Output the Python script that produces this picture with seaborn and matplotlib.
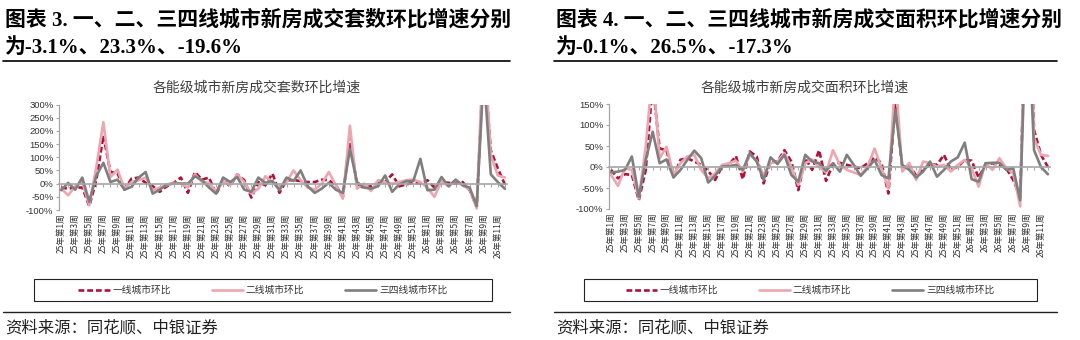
import numpy as np
import pandas as pd
import matplotlib
matplotlib.use("Agg")
import matplotlib.pyplot as plt
from matplotlib.lines import Line2D
from matplotlib.patches import Rectangle
import seaborn as sns

# ---- categories: weekly periods, 2025 W1 .. 2026 W12 ----
weeks = [f"25年第{w}周" for w in range(1, 53)] + [f"26年第{w}周" for w in range(1, 13)]

# ---- week-on-week growth of new-home transactions (units), % ----
units_tier1 = [-15, -19, -15, -15, -85, 13, 182, 44, 40, -23,
               19, 23, 3, -10, -31, -10, 3, 23, -35, 44,
               15, 23, -40, 13, -10, 35, 13, -53, 6, -6,
               38, -35, 13, 13, 10, 6, 6, 15, 13, -6,
               -50, 176, -6, -15, -10, 3, 6, 35, -10, -3,
               3, 0, 13, -15, 6, 3, 0, 6, -25, -88,
               480, 126, 57, -3.1]
units_tier2 = [-19, -44, -10, 6, -82, 63, 233, 25, 53, -19,
               6, 13, 23, -25, -15, -6, 3, 0, -15, 35,
               6, 3, -31, 10, -6, 35, 6, -38, -19, 28,
               6, -15, 6, 50, 13, -15, -23, 0, 44, -6,
               -57, 220, -19, 0, -28, 13, 6, 0, 6, 13,
               15, 6, -15, -50, 10, -10, 13, -6, -23, -94,
               560, 107, 31, 23.3]
units_tier34 = [-25, 3, -23, 23, -69, 30, 79, 6, 15, -23,
                -12, 23, 44, -38, -23, -3, 0, 0, 0, 28,
                13, -15, -38, 23, 6, 25, -23, -31, 23, 3,
                10, -25, 23, 10, 50, -10, -35, -19, 3, -23,
                -35, 132, 6, -15, -19, -10, 31, -31, -3, 9,
                10, 94, -25, -23, 25, -10, 15, -6, -15, -85,
                420, 35, 6, -19.6]

# ---- week-on-week growth of new-home transactions (floor area), % ----
area_tier1 = [-7, -27, -17, -19, -79, -7, 200, 44, 40, -23,
              17, 21, 13, 5, -9, -31, 1, 5, 26, -29,
              37, 25, -39, 13, 13, 40, 13, -55, 21, -7,
              40, -33, 7, 10, 5, 1, -3, 9, 23, 9,
              -63, 160, -6, 5, -21, -7, 7, 5, 29, -7,
              1, 17, 15, -25, 5, 9, 5, -3, -31, -71,
              520, 88, 29, -0.1]
area_tier2 = [-19, -45, -3, -7, -75, 48, 230, 21, 48, -19,
              9, 25, 29, -7, -27, -15, 5, 9, 15, -11,
              29, 15, -19, 9, 13, 33, 0, -43, 9, 18,
              0, -13, 40, 5, -7, -13, -19, 1, 44, -3,
              -51, 220, -11, 10, -31, 13, 9, 1, 5, -11,
              5, 17, -3, -47, 9, -7, 21, -3, -15, -94,
              600, 68, 29, 26.5]
area_tier34 = [-13, -11, -7, 25, -71, 17, 84, 9, 18, -25,
               -7, 17, 39, 21, -37, -21, 1, 2, 5, -7,
               33, 13, -31, 23, 7, 29, -19, -35, 29, 13,
               9, -9, 9, -11, 29, 5, -21, -3, 17, -19,
               -27, 136, 5, -7, -25, -11, 13, -23, -7, 13,
               23, 58, -29, -35, 9, 10, 10, -7, -3, -79,
               420, 40, 0, -17.3]

series_names = ["一线城市环比", "二线城市环比", "三四线城市环比"]
palette = {"一线城市环比": "#B0103C", "二线城市环比": "#EDA6AF", "三四线城市环比": "#7F7F7F"}
dash_map = {"一线城市环比": (2.2, 1.1), "二线城市环比": "", "三四线城市环比": ""}

sns.set_style("white")
plt.rcParams["font.family"] = ["Noto Sans CJK SC", "DejaVu Sans"]
plt.rcParams["axes.unicode_minus"] = False

W, H = 1080, 340
fig = plt.figure(figsize=(W / 100, H / 100), dpi=100)


def fx(px):
    return px / W


def fy(py):
    return 1 - py / H


AXIS_GREY = "#A6A6A6"


def draw_panel(ax, t1, t2, t3, ymin, ymax, ystep):
    df = pd.DataFrame({"pos": np.arange(len(weeks)),
                       series_names[0]: t1,
                       series_names[1]: t2,
                       series_names[2]: t3})
    long = df.melt(id_vars="pos", var_name="series", value_name="value")
    sns.lineplot(data=long, x="pos", y="value", hue="series", style="series",
                 hue_order=series_names, style_order=series_names,
                 palette=palette, dashes=dash_map, linewidth=1.9,
                 sort=False, legend=False, ax=ax)
    ax.set_xlim(-0.3, len(weeks) - 1 + 0.3)
    ax.set_ylim(ymin, ymax)
    yt = np.arange(ymin, ymax + 1, ystep)
    ax.set_yticks(yt)
    ax.set_yticklabels([f"{v:.0f}%" for v in yt], family="Liberation Sans",
                       fontsize=6.8, color="#333333")
    ax.set_xlabel("")
    ax.set_ylabel("")
    for side in ("top", "right"):
        ax.spines[side].set_visible(False)
    ax.spines["left"].set_color(AXIS_GREY)
    ax.spines["left"].set_linewidth(0.9)
    ax.spines["bottom"].set_position(("data", 0))
    ax.spines["bottom"].set_color(AXIS_GREY)
    ax.spines["bottom"].set_linewidth(1.2)
    ax.set_xticks(np.arange(len(weeks)))
    ax.tick_params(axis="x", length=2.5, width=0.8, color=AXIS_GREY,
                   direction="out", labelbottom=False, bottom=True)
    ax.tick_params(axis="y", length=2.5, width=0.8, color=AXIS_GREY,
                   direction="out", pad=1.5, left=True)
    # category labels sit below the plot area
    sec = ax.secondary_xaxis(0)
    sec.set_xticks(np.arange(0, len(weeks), 2), labels=weeks[::2])
    sec.tick_params(length=0, labelsize=6.1, rotation=90, pad=2.5,
                    labelcolor="#333333")
    sec.spines["bottom"].set_visible(False)
    return ax


# left panel: units
ax1 = fig.add_axes([fx(59), fy(210), fx(507) - fx(59), fy(104.5) - fy(210)])
draw_panel(ax1, units_tier1, units_tier2, units_tier34, -100, 300, 50)

# right panel: floor area
ax2 = fig.add_axes([fx(609), fy(209), fx(1050) - fx(609), fy(104) - fy(209)])
draw_panel(ax2, area_tier1, area_tier2, area_tier34, -100, 150, 50)

title_font = ["Liberation Serif", "Noto Sans CJK SC"]
heads = [
    (5, "图表 3. 一、二、三四线城市新房成交套数环比增速分别", "为-3.1%、23.3%、-19.6%",
     "各能级城市新房成交套数环比增速", 257, (3, 510), (34, 492), 263, ax1),
    (556, "图表 4. 一、二、三四线城市新房成交面积环比增速分别", "为-0.1%、26.5%、-17.3%",
     "各能级城市新房成交面积环比增速", 805, (554, 1057), (584, 1037), 810, ax2),
]

for x0, l1, l2, sub, subx, rule, box, legx, ax in heads:
    fig.text(fx(x0), fy(20), l1, ha="left", va="center", fontsize=15,
             weight="bold", family=title_font, color="black")
    fig.text(fx(x0), fy(48), l2, ha="left", va="center", fontsize=15,
             weight="bold", family=title_font, color="black")
    fig.add_artist(Line2D([fx(rule[0]), fx(rule[1])], [fy(61), fy(61)],
                          transform=fig.transFigure, color="black", lw=1.2))
    fig.text(fx(subx), fy(88), sub, ha="center", va="center", fontsize=10,
             color="#404040")
    # legend
    handles = ax.lines[:3]
    fig.legend(handles, series_names, loc="center",
               bbox_to_anchor=(fx(legx), fy(290)), ncol=3, frameon=False,
               fontsize=7, handlelength=3.2, handletextpad=0.3,
               columnspacing=4.2, labelcolor="#333333")
    fig.add_artist(Rectangle((fx(box[0]), fy(301)), fx(box[1]) - fx(box[0]),
                             fy(279) - fy(301), transform=fig.transFigure,
                             fill=False, ec="#222222", lw=0.8))
    fig.add_artist(Line2D([fx(rule[0]), fx(rule[1])], [fy(312), fy(312)],
                          transform=fig.transFigure, color="#222222", lw=1.0))
    fig.text(fx(x0), fy(328), "资料来源：同花顺、中银证券", ha="left",
             va="center", fontsize=11.8, color="#222222")

fig.savefig("out.png", dpi=100, facecolor="white")
